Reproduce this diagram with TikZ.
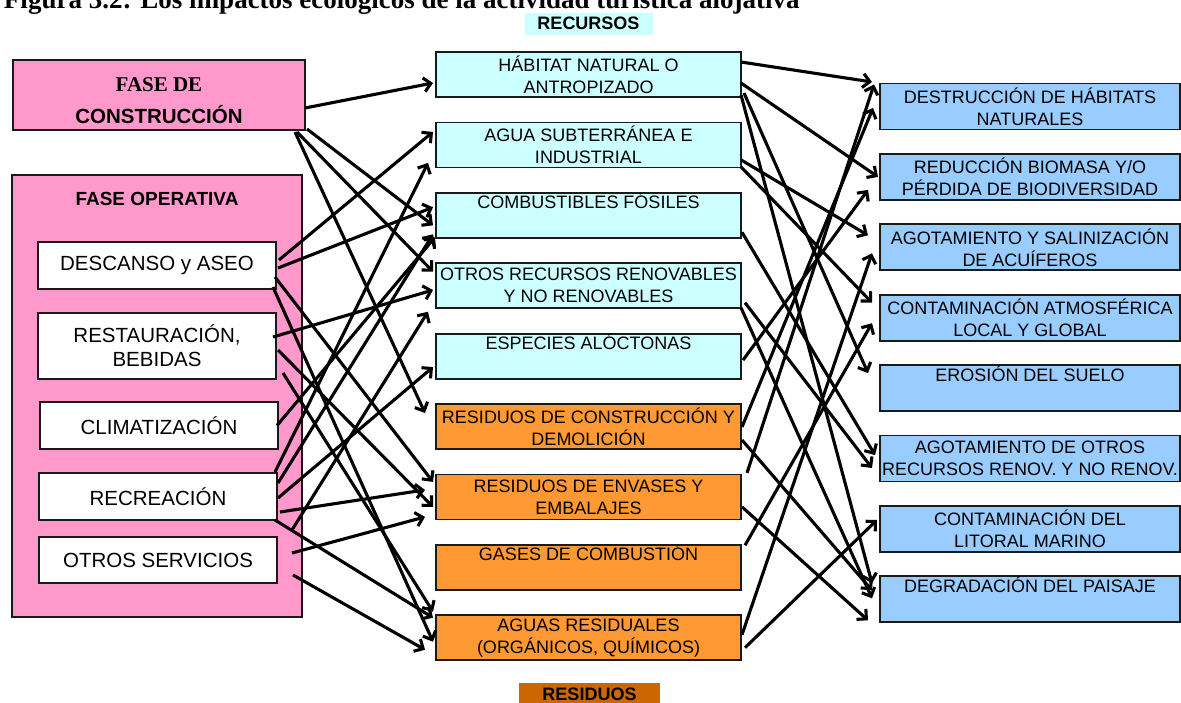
\documentclass[tikz,border=0pt]{standalone}
\usepackage{fontspec}
\setmainfont{Liberation Sans}
\newfontfamily\timesfont{Liberation Serif}
\usetikzlibrary{arrows.meta,calc}
\definecolor{phasepink}{HTML}{FF99CC}
\definecolor{rescyan}{HTML}{CCFFFF}
\definecolor{wasteorange}{HTML}{FF9933}
\definecolor{impactblue}{HTML}{99CCFF}
\definecolor{wastelabel}{HTML}{CC6600}
\definecolor{edgegray}{HTML}{1A1A1A}

\begin{document}
\begin{tikzpicture}[x=1pt,y=-1pt,
  every node/.style={inner sep=0pt,outer sep=0pt},
  boxbase/.style={draw=edgegray,line width=1.8pt,align=center},
  resbox/.style={boxbase,fill=rescyan,minimum width=305pt,minimum height=45pt,font=\fontsize{18}{22}\selectfont},
  wastebox/.style={resbox,fill=wasteorange},
  impbox/.style={boxbase,fill=impactblue,minimum width=300pt,minimum height=46pt,font=\fontsize{18}{22}\selectfont},
  actbox/.style={boxbase,line width=1.4pt,fill=white,minimum width=238pt,font=\fontsize{20.5}{24}\selectfont},
  arr/.style={line width=3.1pt,-{Straight Barb[length=7pt,width=14pt]}},
]
\useasboundingbox (0,0) rectangle (1181,702);

% heading (cut by the page edge)
\node[anchor=base west,font=\timesfont\bfseries\fontsize{27}{30}\selectfont] (title) at (4,8)
  {Figura 3.2: Los impactos ecológicos de la actividad turística alojativa};

% column labels
\node[fill=rescyan,minimum width=128pt,minimum height=22pt,text height=12.9pt,text depth=0pt,
  font=\bfseries\fontsize{18}{20}\selectfont] (reclabel) at (588.5,23.5) {RECURSOS};
\node[fill=wastelabel,minimum width=141pt,minimum height=23pt,text height=12.9pt,text depth=0pt,
  font=\bfseries\fontsize{18}{20}\selectfont] (wastetitle) at (589.5,694.5) {RESIDUOS};

% phases
\node[boxbase,fill=phasepink,minimum width=292pt,minimum height=70pt] (constr) at (159,95) {};
\node[anchor=base,font=\timesfont\bfseries\fontsize{21}{24}\selectfont] (constrA) at (159,91) {FASE DE};
\node[anchor=base,font=\bfseries\fontsize{20.5}{24}\selectfont] (constrB) at (159,123) {CONSTRUCCIÓN};

\node[boxbase,fill=phasepink,minimum width=290pt,minimum height=442pt] (oper) at (157,396) {};
\node[anchor=base,font=\bfseries\fontsize{19}{22}\selectfont] (opertitle) at (157,205) {FASE OPERATIVA};

\node[actbox,minimum height=47pt] (desc)  at (157,265.5) {DESCANSO y ASEO};
\node[actbox,minimum height=66pt] (rest)  at (157,346)   {RESTAURACIÓN,\\BEBIDAS};
\node[actbox,minimum height=47pt] (clim)  at (159,425.5) {CLIMATIZACIÓN};
\node[actbox,minimum height=47pt] (recr)  at (158,496.5) {RECREACIÓN};
\node[actbox,minimum height=46pt] (otser) at (158,560)   {OTROS SERVICIOS};

% resources and wastes
\node[resbox] (hab)   at (588.5,74.5)  {HÁBITAT NATURAL O\\ANTROPIZADO};
\node[resbox] (agua)  at (588.5,144.9) {AGUA SUBTERRÁNEA E\\INDUSTRIAL};
\node[resbox] (comb)  at (588.5,215.3) {COMBUSTIBLES FÓSILES\\\strut};
\node[resbox] (otros) at (588.5,285.7) {OTROS RECURSOS RENOVABLES\\Y NO RENOVABLES};
\node[resbox] (esp)   at (588.5,356.1) {ESPECIES ALÓCTONAS\\\strut};
\node[wastebox] (rcd)   at (588.5,426.5) {RESIDUOS DE CONSTRUCCIÓN Y\\DEMOLICIÓN};
\node[wastebox] (env)   at (588.5,496.9) {RESIDUOS DE ENVASES Y\\EMBALAJES};
\node[wastebox] (gas)   at (588.5,567.3) {GASES DE COMBUSTIÓN\\\strut};
\node[wastebox] (aguas) at (588.5,637.7) {AGUAS RESIDUALES\\(ORGÁNICOS, QUÍMICOS)};

% impacts
\node[impbox] (destr)  at (1030,106.5) {DESTRUCCIÓN DE HÁBITATS\\NATURALES};
\node[impbox] (reduc)  at (1030,176.9) {REDUCCIÓN BIOMASA Y/O\\PÉRDIDA DE BIODIVERSIDAD};
\node[impbox] (agot)   at (1030,247.3) {AGOTAMIENTO Y SALINIZACIÓN\\DE ACUÍFEROS};
\node[impbox] (atm)    at (1030,317.7) {CONTAMINACIÓN ATMOSFÉRICA\\LOCAL Y GLOBAL};
\node[impbox] (eros)   at (1030,388.1) {EROSIÓN DEL SUELO\\\strut};
\node[impbox] (agotro) at (1030,458.5) {AGOTAMIENTO DE OTROS\\RECURSOS RENOV. Y NO RENOV.};
\node[impbox] (lit)    at (1030,528.9) {CONTAMINACIÓN DEL\\LITORAL MARINO};
\node[impbox] (degr)   at (1030,599.3) {DEGRADACIÓN DEL PAISAJE\\\strut};

% activities -> resources and wastes
\draw[arr] ($(constr.east)+(0,13)$) -- ($(hab.west)+(-3,8.5)$);
\draw[arr] ($(constr.south east)+(2,-1)$) -- ($(comb.west)+(-3,10)$);
\draw[arr] ($(constr.south east)+(-8,2)$) -- ($(otros.west)+(-3,-14)$);
\draw[arr] ($(constr.south east)+(-10,2)$) -- ($(rcd.west)+(-11,-13.5)$);
\draw[arr] ($(desc.east)+(3,-5.5)$) -- ($(agua.west)+(-3,-13)$);
\draw[arr] ($(desc.east)+(2,2.5)$) -- ($(comb.west)+(-3,-8)$);
\draw[arr] ($(desc.east)+(-1,11.5)$) -- ($(env.west)+(-3,-15)$);
\draw[arr] ($(desc.east)+(-3,21.5)$) -- ($(aguas.west)+(-3,4)$);
\draw[arr] ($(rest.east)+(-3,-9)$) -- ($(otros.west)+(-3,4.3)$);
\draw[arr] ($(rest.east)+(2,4)$) -- ($(env.west)+(-3,10)$);
\draw[arr] ($(rest.east)+(7,27)$) -- ($(aguas.west)+(-3,-26)$);
\draw[arr] ($(clim.east)+(-1,0)$) -- ($(comb.west)+(-1,22)$);
\draw[arr] ($(recr.east)+(-2,-24.5)$) -- ($(agua.west)+(-8,18)$);
\draw[arr] ($(recr.east)+(1,-13.5)$) -- ($(comb.west)+(-3,19)$);
\draw[arr] ($(recr.east)+(1,1.5)$) -- ($(esp.west)+(-3,11)$);
\draw[arr] ($(recr.east)+(3,15.5)$) -- ($(env.west)+(-11,-7)$);
\draw[arr] ($(recr.east)+(-2,23.5)$) -- ($(aguas.west)+(-3,-20)$);
\draw[arr] ($(otser.east)+(15,-30)$) -- ($(otros.west)+(-8,26)$);
\draw[arr] ($(otser.east)+(15,-7)$) -- ($(env.west)+(-11,20)$);
\draw[arr] ($(otser.east)+(16,15)$) -- ($(aguas.west)+(-11,12)$);

% resources and wastes -> impacts
\draw[arr] ($(hab.east)+(0,-12.5)$) -- ($(destr.west)+(-8,-24.5)$);
\draw[arr] ($(hab.east)+(0,8.5)$) -- ($(reduc.west)+(-2,0)$);
\draw[arr] ($(hab.east)+(3,18.5)$) -- ($(eros.west)+(-12,-15)$);
\draw[arr] ($(hab.east)+(0,20.5)$) -- ($(degr.west)+(-8,-16)$);
\draw[arr] ($(agua.east)+(0,15)$) -- ($(agot.west)+(-12,-12)$);
\draw[arr] ($(agua.east)+(0,22)$) -- ($(atm.west)+(-8,-15)$);
\draw[arr] ($(comb.east)+(1,17)$) -- ($(agotro.west)+(-5,-3.5)$);
\draw[arr] ($(otros.east)+(4,17)$) -- ($(agotro.west)+(-8,9.5)$);
\draw[arr] ($(otros.east)+(0,22)$) -- ($(degr.west)+(-8,-1)$);
\draw[arr] ($(esp.east)+(2,4)$) -- ($(reduc.west)+(-12,13)$);
\draw[arr] ($(rcd.east)+(1,0.5)$) -- ($(destr.west)+(-7,1.5)$);
\draw[arr] ($(rcd.east)+(1,13.5)$) -- ($(degr.west)+(-8,-9)$);
\draw[arr] ($(env.east)+(6,-24)$) -- ($(destr.west)+(-6,-22)$);
\draw[arr] ($(env.east)+(1,10)$) -- ($(degr.west)+(-12,21)$);
\draw[arr] ($(gas.east)+(4,-22)$) -- ($(atm.west)+(-8,5.5)$);
\draw[arr] ($(aguas.east)+(1,-3)$) -- ($(agot.west)+(-8,6)$);
\draw[arr] ($(aguas.east)+(4,10)$) -- ($(lit.west)+(-3,-9)$);
\end{tikzpicture}
\end{document}
